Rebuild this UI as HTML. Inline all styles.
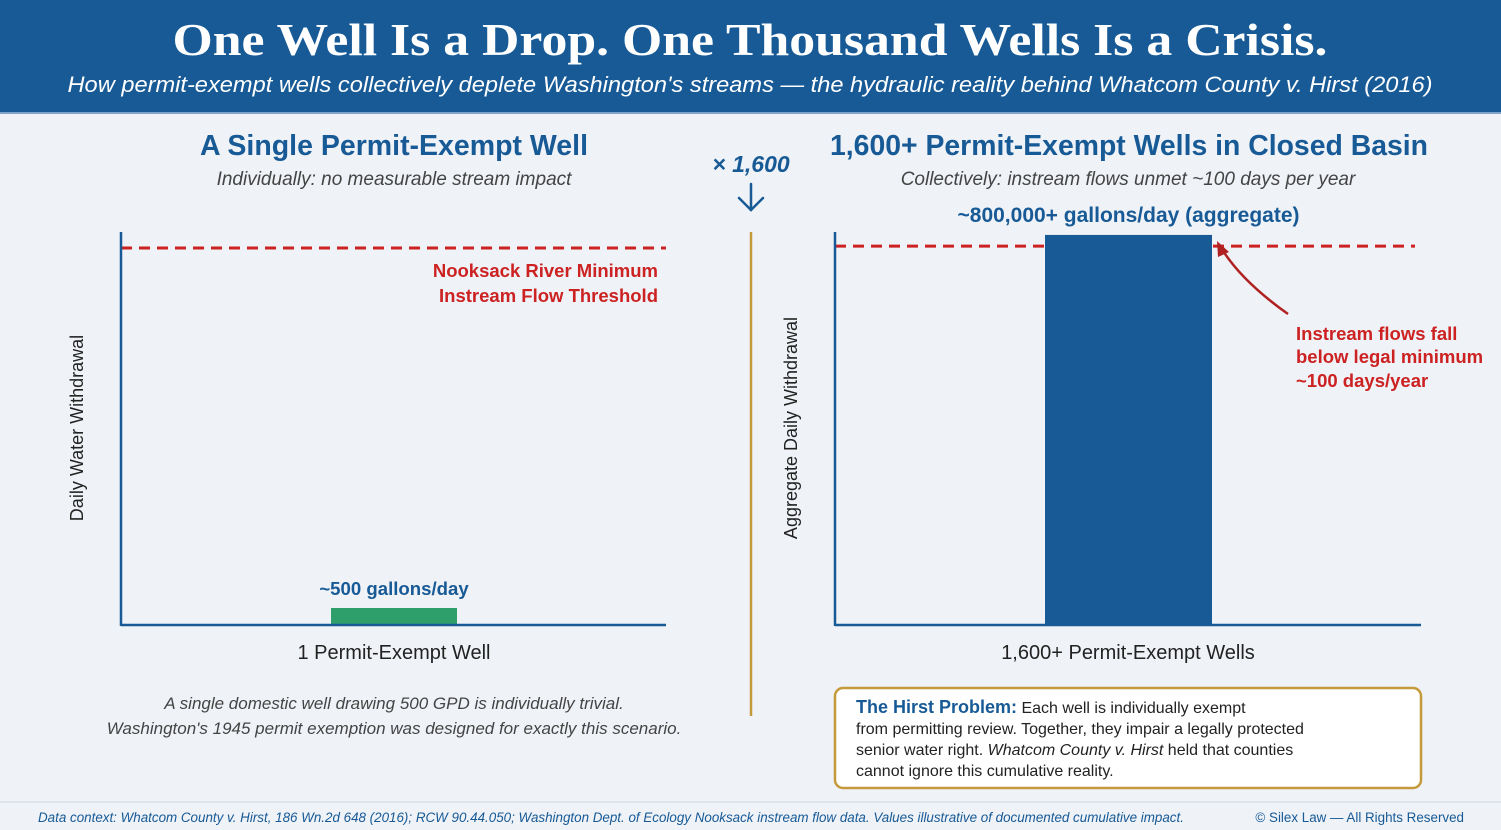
<!DOCTYPE html>
<html><head><meta charset="utf-8"><style>
body{margin:0;background:#eff2f7;}
svg{display:block;font-family:"Liberation Sans",sans-serif;}
</style></head><body>
<svg width="1501" height="830" viewBox="0 0 1501 830">
<rect width="1501" height="830" fill="#eff2f7"/>
<rect width="1501" height="112" fill="#175a96"/>
<rect y="112" width="1501" height="2" fill="#7ea3c9"/>
<text x="750" y="55" text-anchor="middle" fill="#fff" font-family="Liberation Serif,serif" font-weight="bold" font-size="46" textLength="1155" lengthAdjust="spacingAndGlyphs">One Well Is a Drop. One Thousand Wells Is a Crisis.</text>
<text x="750" y="92" text-anchor="middle" fill="#fff" font-style="italic" font-size="22" textLength="1365" lengthAdjust="spacingAndGlyphs">How permit-exempt wells collectively deplete Washington's streams — the hydraulic reality behind Whatcom County v. Hirst (2016)</text>

<text x="394" y="155" text-anchor="middle" fill="#175a96" font-weight="bold" font-size="28.5">A Single Permit-Exempt Well</text>
<text x="394" y="185" text-anchor="middle" fill="#444" font-style="italic" font-size="19">Individually: no measurable stream impact</text>
<text x="1129" y="155" text-anchor="middle" fill="#175a96" font-weight="bold" font-size="28.5" textLength="598" lengthAdjust="spacingAndGlyphs">1,600+ Permit-Exempt Wells in Closed Basin</text>
<text x="1128" y="185" text-anchor="middle" fill="#444" font-style="italic" font-size="19">Collectively: instream flows unmet ~100 days per year</text>

<text x="751" y="172" text-anchor="middle" fill="#175a96" font-weight="bold" font-style="italic" font-size="23">× 1,600</text>
<g stroke="#175a96" stroke-width="2.5" fill="none" stroke-linecap="round"><line x1="751" y1="184" x2="751" y2="210"/><polyline points="739,198 751,210 763,198"/></g>
<line x1="751" y1="232" x2="751" y2="716" stroke="#c49a3a" stroke-width="2.5"/>

<g id="charts"></g>

<text x="658" y="277" text-anchor="end" fill="#cc2222" font-weight="bold" font-size="18.5">Nooksack River Minimum</text>
<text x="658" y="302" text-anchor="end" fill="#cc2222" font-weight="bold" font-size="18.5">Instream Flow Threshold</text>
<text x="83" y="428" text-anchor="middle" transform="rotate(-90 83 428)" fill="#222" font-size="18">Daily Water Withdrawal</text>
<text x="797" y="428" text-anchor="middle" transform="rotate(-90 797 428)" fill="#222" font-size="18">Aggregate Daily Withdrawal</text>
<text x="394" y="659" text-anchor="middle" fill="#222" font-size="20">1 Permit-Exempt Well</text>
<text x="1128" y="659" text-anchor="middle" fill="#222" font-size="20">1,600+ Permit-Exempt Wells</text>

<text x="1296" y="340" fill="#cc2222" font-weight="bold" font-size="18.5">Instream flows fall</text>
<text x="1296" y="363" fill="#cc2222" font-weight="bold" font-size="18.5">below legal minimum</text>
<text x="1296" y="387" fill="#cc2222" font-weight="bold" font-size="18.5">~100 days/year</text>
<path d="M1288,314 Q1240,280 1220,246" stroke="#b02222" stroke-width="2.5" fill="none"/>
<polygon points="1217,241 1229,252 1218,257" fill="#b02222"/>

<text x="394" y="709" text-anchor="middle" fill="#444" font-style="italic" font-size="17">A single domestic well drawing 500 GPD is individually trivial.</text>
<text x="394" y="734" text-anchor="middle" fill="#444" font-style="italic" font-size="17">Washington's 1945 permit exemption was designed for exactly this scenario.</text>

<rect x="835" y="688" width="586" height="100" rx="8" fill="#fff" stroke="#c49a3a" stroke-width="2.5"/>
<text x="856" y="713" font-size="16" fill="#222"><tspan fill="#175a96" font-weight="bold" font-size="18">The Hirst Problem:</tspan> Each well is individually exempt</text>
<text x="856" y="734" font-size="16" fill="#222">from permitting review. Together, they impair a legally protected</text>
<text x="856" y="755" font-size="16" fill="#222">senior water right. <tspan font-style="italic">Whatcom County v. Hirst</tspan> held that counties</text>
<text x="856" y="776" font-size="16" fill="#222">cannot ignore this cumulative reality.</text>

<line x1="0" y1="802" x2="1501" y2="802" stroke="#cdd5e0" stroke-width="1"/>
<text x="38" y="822" fill="#175a96" font-style="italic" font-size="13.4">Data context: Whatcom County v. Hirst, 186 Wn.2d 648 (2016); RCW 90.44.050; Washington Dept. of Ecology Nooksack instream flow data. Values illustrative of documented cumulative impact.</text>
<text x="1464" y="822" text-anchor="end" fill="#175a96" font-size="13.4">© Silex Law — All Rights Reserved</text>
</svg>
<script>
const panels = ["single-well", "aggregate-wells"];
const withdrawals = [500, 800000];
const thresholds = [11090, 777000];
const yMaxima = [11560, 806000];
const valueLabels = ["~500 gallons/day", "~800,000+ gallons/day (aggregate)"];
const barColors = ["#2e9e6a", "#175a96"];

const NS = "http://www.w3.org/2000/svg";
const g = document.getElementById("charts");
const frames = [{x0:121,x1:666,dash1:666,bx0:331,bx1:457,fs:18.6},{x0:835,x1:1421,dash1:1415,bx0:1045,bx1:1212,fs:21}];
const yTop = 232, yBase = 625;
function mk(tag, attrs){const e=document.createElementNS(NS,tag);for(const k in attrs)e.setAttribute(k,attrs[k]);g.appendChild(e);return e;}
panels.forEach((p,i)=>{
  const f = frames[i];
  const y = v => yBase - v / yMaxima[i] * (yBase - yTop);
  const ty = y(thresholds[i]);
  const th = mk("line",{x1:f.x0,y1:ty,x2:f.dash1,y2:ty,stroke:"#cc2222","stroke-width":3,"stroke-dasharray":"11,7"});
  
  
  const by = y(withdrawals[i]);
  const bar = mk("rect",{x:f.bx0,y:by,width:f.bx1-f.bx0,height:yBase-by,fill:barColors[i]});
  
  
  const lb = mk("text",{x:(f.bx0+f.bx1)/2,y:by-13,"text-anchor":"middle",fill:"#175a96","font-weight":"bold","font-size":f.fs});
  lb.textContent = valueLabels[i];
  
  
  const ya = mk("line",{x1:f.x0,y1:yTop,x2:f.x0,y2:yBase+1,stroke:"#175a96","stroke-width":2.5});
  
  
  const xa = mk("line",{x1:f.x0,y1:yBase,x2:f.x1,y2:yBase,stroke:"#175a96","stroke-width":2.5});
  
  
});
</script>
</body></html>
